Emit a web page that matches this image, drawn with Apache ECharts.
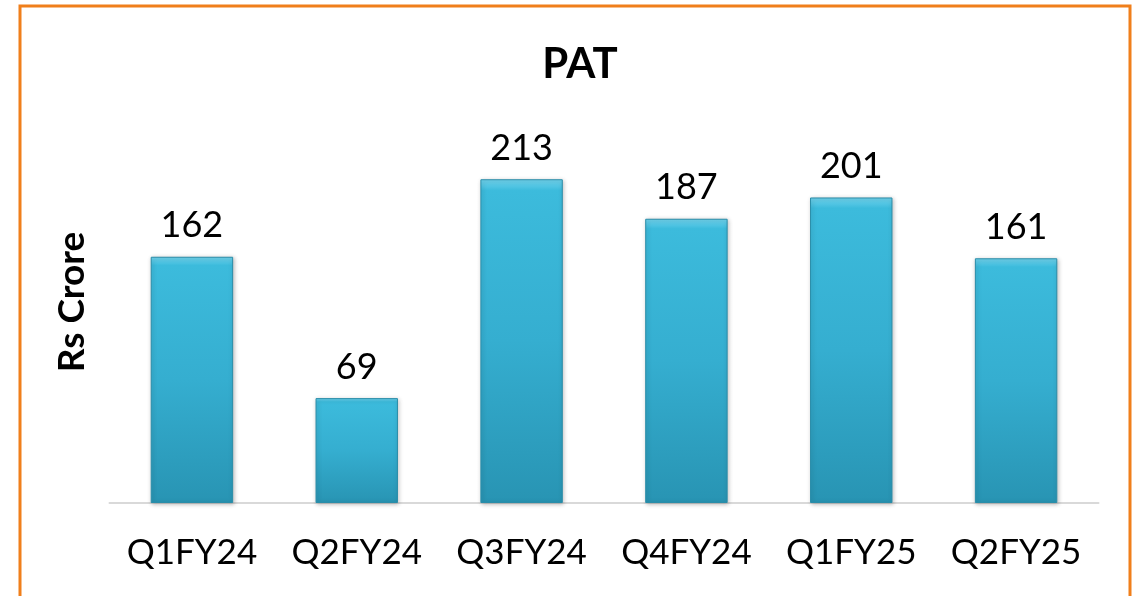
<!DOCTYPE html>
<html>
<head>
<meta charset="utf-8">
<script src="https://cdn.jsdelivr.net/npm/echarts@6/dist/echarts.min.js"></script>
<style>
  html, body { margin: 0; padding: 0; background: #fff; }
  #chart { width: 1135px; height: 596px; }
</style>
</head>
<body>
<div id="chart"></div>
<script>
const quarters = ['Q1FY24', 'Q2FY24', 'Q3FY24', 'Q4FY24', 'Q1FY25', 'Q2FY25']
const patValues = [162, 69, 213, 187, 201, 161]

const fontFamily = 'Lato, "Open Sans", sans-serif'

const chart = echarts.init(document.getElementById('chart'))

chart.setOption({
  backgroundColor: '#fff',
  animation: false,
  title: {
    text: 'PAT',
    left: 575,
    textAlign: 'center',
    top: 38,
    textStyle: {
      fontFamily,
      fontSize: 42,
      fontWeight: 'bold',
      color: '#000'
    }
  },
  graphic: [
    {
      type: 'rect',
      shape: { x: 20, y: 6, width: 1110, height: 640 },
      style: { fill: 'none', stroke: '#F07F1B', lineWidth: 3 },
      silent: true
    }
  ],
  grid: {
    left: 109.5,
    right: 36.5,
    top: 123,
    bottom: 93,
    containLabel: false
  },
  xAxis: {
    type: 'category',
    data: quarters,
    axisLine: { lineStyle: { color: '#D9D9D9', width: 2 } },
    axisTick: { show: false },
    axisLabel: {
      interval: 0,
      hideOverlap: false,
      margin: 32,
      fontFamily,
      fontSize: 35,
      color: '#000'
    }
  },
  yAxis: {
    type: 'value',
    min: 0,
    max: 250,
    name: 'Rs Crore',
    nameLocation: 'middle',
    nameGap: 19,
    nameTextStyle: {
      fontFamily,
      fontSize: 37,
      fontWeight: 'bold',
      color: '#000',
      padding: [0, 0, 0, 22]
    },
    axisLine: { show: false },
    axisTick: { show: false },
    axisLabel: { show: false },
    splitLine: { show: false }
  },
  series: [
    {
      type: 'bar',
      data: patValues,
      barWidth: '50%',
      itemStyle: {
        color: new echarts.graphic.LinearGradient(0, 0, 0, 1, [
          { offset: 0, color: '#72D4EE' },
          { offset: 0.035, color: '#3CBBDC' },
          { offset: 0.5, color: '#35AED0' },
          { offset: 1, color: '#2894B3' }
        ]),
        borderColor: '#2A8DA9',
        borderWidth: 1,
        shadowColor: 'rgba(0,0,0,0.25)',
        shadowBlur: 4,
        shadowOffsetX: 1,
        shadowOffsetY: 1
      },
      label: {
        show: true,
        position: 'top',
        distance: 13,
        fontFamily,
        fontSize: 36,
        color: '#000'
      }
    }
  ]
})
</script>
</body>
</html>
